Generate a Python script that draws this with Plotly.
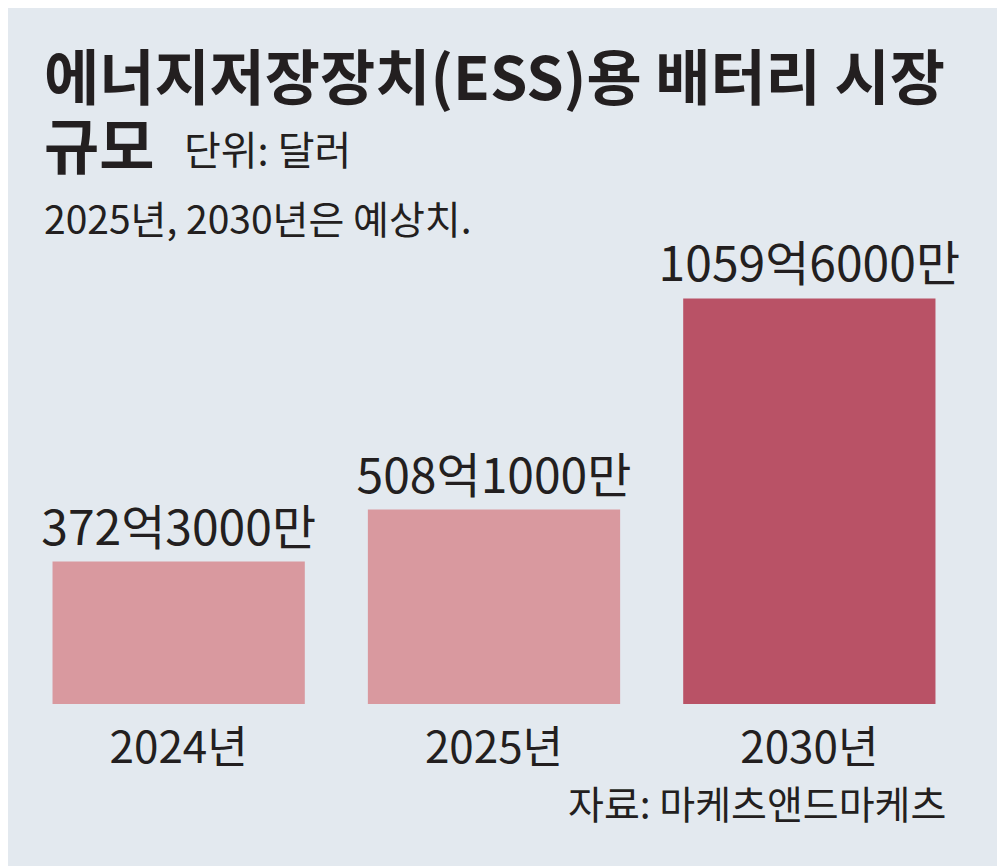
import plotly.graph_objects as go

# 에너지저장장치(ESS)용 배터리 시장 규모 (단위: 억 달러)
years = ["2024년", "2025년", "2030년"]
market_size = [372.3, 508.1, 1059.6]
value_labels = ["372억3000만", "508억1000만", "1059억6000만"]
bar_colors = ["#d9999f", "#d9999f", "#b95266"]

# page body has an 8px margin, so the figure is a bit smaller than the window
W, H = 997, 858
L, R, T, B = 13, 38, 252, 162
PW, PH = W - L - R, H - T - B
BG = "#e3e9ef"
INK = "#231f20"
FONT = "Noto Sans CJK KR"


def px(x, y):
    # window pixel -> paper coordinates
    return (x - 8 - L) / PW, (H - B - (y - 8)) / PH


fig = go.Figure(
    go.Bar(
        x=years,
        y=market_size,
        marker=dict(color=bar_colors, line=dict(width=0)),
        text=value_labels,
        textposition="outside",
        constraintext="none",
        textfont=dict(family=FONT, size=48, color=INK),
        cliponaxis=False,
        hoverinfo="skip",
    )
)

notes = [
    # text, x, y, size, bold, xanchor
    ("에너지저장장치(ESS)용 배터리 시장", 42, 73, 60, True, "left"),
    ("규모", 42, 143, 60, True, "left"),
    ("단위: 달러", 182, 148, 40, False, "left"),
    ("2025년, 2030년은 예상치.", 42, 217, 39, False, "left"),
    ("자료: 마케츠앤드마케츠", 948, 802, 39, False, "right"),
]
for text, x, y, size, bold, anchor in notes:
    xp, yp = px(x, y)
    fig.add_annotation(
        text=text,
        x=xp,
        y=yp,
        xref="paper",
        yref="paper",
        xanchor=anchor,
        yanchor="middle",
        showarrow=False,
        font=dict(family=FONT, size=size, color=INK, weight="bold" if bold else "normal"),
    )

fig.update_layout(
    width=W,
    height=H,
    margin=dict(l=L, r=R, t=T, b=B),
    paper_bgcolor=BG,
    plot_bgcolor=BG,
    bargap=0.2,
    showlegend=False,
    font=dict(family=FONT, color=INK),
)
fig.update_xaxes(
    showgrid=False,
    zeroline=False,
    showline=False,
    ticks="outside",
    ticklen=5,
    tickcolor=BG,
    tickfont=dict(family=FONT, size=44, color=INK),
)
fig.update_yaxes(visible=False, range=[0, 1160], fixedrange=True)

fig.write_html("out.html")
